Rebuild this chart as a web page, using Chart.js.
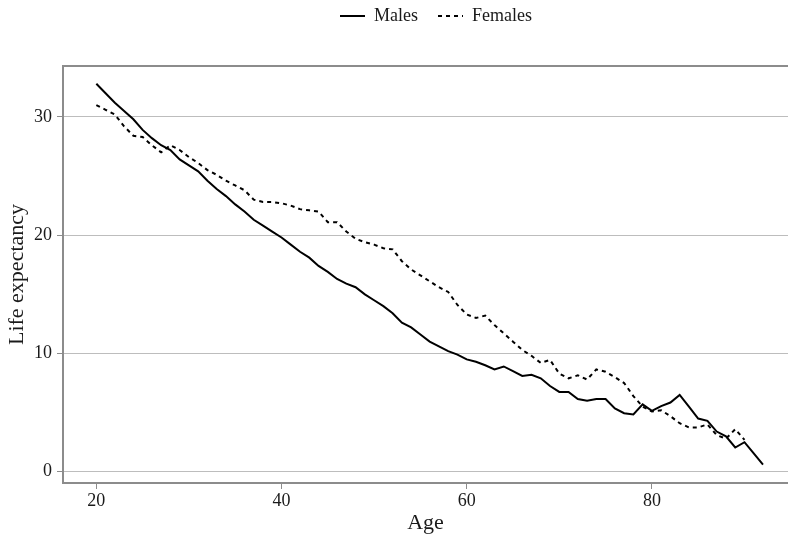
<!DOCTYPE html>
<html>
<head>
<meta charset="utf-8">
<script src="https://cdn.jsdelivr.net/npm/chart.js@4"></script>
<style>
  html, body { margin: 0; padding: 0; background: #fff; }
  #wrap { width: 788px; height: 540px; }
</style>
</head>
<body>
<div id="wrap"><canvas id="lifeChart" width="788" height="540"></canvas></div>
<script>
// Data
const maleAges = [20, 21, 22, 23, 24, 25, 26, 27, 28, 29, 30, 31, 32, 33, 34, 35, 36, 37, 38, 39,
    40, 41, 42, 43, 44, 45, 46, 47, 48, 49, 50, 51, 52, 53, 54, 55, 56, 57, 58, 59,
    60, 61, 62, 63, 64, 65, 66, 67, 68, 69, 70, 71, 72, 73, 74, 75, 76, 77, 78, 79,
    80, 81, 82, 83, 84, 85, 86, 87, 88, 89, 90, 91, 92];
const males = [32.8, 32.0, 31.2, 30.5, 29.8, 28.9, 28.2, 27.6, 27.2, 26.4,
    25.9, 25.4, 24.6, 23.9, 23.3, 22.6, 22.0, 21.3, 20.8, 20.3,
    19.8, 19.2, 18.6, 18.1, 17.4, 16.9, 16.3, 15.9, 15.6, 15.0,
    14.5, 14.0, 13.4, 12.6, 12.2, 11.6, 11.0, 10.6, 10.2, 9.9,
    9.5, 9.3, 9.0, 8.65, 8.9, 8.5, 8.1, 8.2, 7.9, 7.25,
    6.75, 6.75, 6.15, 6.0, 6.15, 6.15, 5.35, 4.95, 4.85, 5.7,
    5.15, 5.55, 5.85, 6.5, 5.5, 4.5, 4.3, 3.4, 3.0, 2.05,
    2.5, 1.55, 0.6];

const femaleAges = [20, 21, 22, 23, 24, 25, 26, 27, 28, 29, 30, 31, 32, 33, 34, 35, 36, 37, 38, 39,
    40, 41, 42, 43, 44, 45, 46, 47, 48, 49, 50, 51, 52, 53, 54, 55, 56, 57, 58, 59,
    60, 61, 62, 63, 64, 65, 66, 67, 68, 69, 70, 71, 72, 73, 74, 75, 76, 77, 78, 79,
    80, 81, 82, 83, 84, 85, 86, 87, 88, 89, 90];
const females = [31.0, 30.6, 30.2, 29.2, 28.4, 28.3, 27.6, 27.0, 27.6, 27.2,
    26.6, 26.1, 25.5, 25.1, 24.6, 24.2, 23.8, 23.0, 22.8, 22.8,
    22.7, 22.5, 22.2, 22.1, 22.0, 21.1, 21.1, 20.3, 19.7, 19.4,
    19.2, 18.9, 18.8, 17.8, 17.1, 16.6, 16.1, 15.6, 15.2, 14.1,
    13.3, 13.0, 13.2, 12.4, 11.7, 11.0, 10.3, 9.8, 9.2, 9.45,
    8.3, 7.9, 8.15, 7.8, 8.65, 8.45, 8.0, 7.5, 6.4, 5.5,
    5.1, 5.2, 4.7, 4.1, 3.75, 3.75, 4.0, 3.1, 2.8, 3.6,
    2.7];

const xTicks = [20, 40, 60, 80];
const yTicks = [0, 10, 20, 30];

const axisGray = '#8c8c8c';
const gridGray = '#bdbdbd';
const textColor = '#1a1a1a';
const serif = "'Liberation Serif', 'DejaVu Serif', serif";

function toPoints(xs, ys) {
    return xs.map((x, i) => ({ x: x, y: ys[i] }));
}

// Legend gets a fixed height so the plot frame starts where the reference does
const legendHeight = {
    id: 'legendHeight',
    beforeInit(chart) {
        const fit = chart.legend.fit;
        chart.legend.fit = function () {
            fit.bind(chart.legend)();
            this.height = 66;
        };
    },
    afterLayout(chart) {
        // ggplot centres the legend over the panel, not the whole canvas
        const lg = chart.legend;
        lg.left += 42;
        lg.right += 42;
        lg.top -= 13;
    }
};

// Top border of the panel
const frameTop = {
    id: 'frameTop',
    afterDraw(chart) {
        const { ctx, chartArea } = chart;
        ctx.save();
        ctx.strokeStyle = axisGray;
        ctx.lineWidth = 2;
        ctx.beginPath();
        ctx.moveTo(chartArea.left - 1, chartArea.top);
        ctx.lineTo(chartArea.right, chartArea.top);
        ctx.stroke();
        ctx.restore();
    }
};

new Chart(document.getElementById('lifeChart'), {
    type: 'line',
    data: {
        datasets: [
            {
                label: 'Males',
                data: toPoints(maleAges, males),
                borderColor: '#000',
                backgroundColor: '#000',
                borderWidth: 2,
                pointRadius: 0,
                tension: 0,
                fill: false
            },
            {
                label: 'Females',
                data: toPoints(femaleAges, females),
                borderColor: '#000',
                backgroundColor: '#000',
                borderWidth: 2,
                borderDash: [4, 4],
                pointRadius: 0,
                tension: 0,
                fill: false
            }
        ]
    },
    options: {
        responsive: false,
        animation: false,
        layout: { padding: 0 },
        plugins: {
            legend: {
                position: 'top',
                labels: {
                    usePointStyle: true,
                    pointStyle: 'line',
                    pointStyleWidth: 25,
                    boxHeight: 18,
                    padding: 20,
                    color: textColor,
                    font: { family: serif, size: 18 },
                    generateLabels: chart => {
                        const items = Chart.defaults.plugins.legend.labels.generateLabels(chart);
                        items.forEach(item => {
                            const ds = chart.data.datasets[item.datasetIndex];
                            item.lineDash = ds.borderDash || [];
                            item.lineWidth = 2;
                            item.strokeStyle = ds.borderColor;
                        });
                        return items;
                    }
                }
            },
            tooltip: { enabled: false }
        },
        scales: {
            x: {
                type: 'linear',
                min: 16.4,
                max: 94.7,
                afterBuildTicks: scale => { scale.ticks = xTicks.map(v => ({ value: v })); },
                afterFit: scale => { scale.height = 57; },
                grid: {
                    drawOnChartArea: false,
                    drawTicks: true,
                    tickLength: 6,
                    tickColor: axisGray,
                    tickWidth: 1
                },
                border: { display: true, color: axisGray, width: 2 },
                ticks: {
                    color: textColor,
                    padding: 1,
                    maxRotation: 0,
                    font: { family: serif, size: 18 }
                },
                title: {
                    display: true,
                    text: 'Age',
                    color: textColor,
                    padding: { top: 0, bottom: 4 },
                    font: { family: serif, size: 22 }
                }
            },
            y: {
                min: -0.95,
                max: 34.3,
                afterBuildTicks: scale => { scale.ticks = yTicks.map(v => ({ value: v })); },
                afterFit: scale => { scale.width = 63; },
                grid: {
                    color: gridGray,
                    lineWidth: 1,
                    drawTicks: true,
                    tickLength: 6,
                    tickColor: axisGray
                },
                border: { display: true, color: axisGray, width: 2 },
                ticks: {
                    color: textColor,
                    padding: 5,
                    font: { family: serif, size: 18 }
                },
                title: {
                    display: true,
                    text: 'Life expectancy',
                    color: textColor,
                    padding: { top: 4, bottom: 0 },
                    font: { family: serif, size: 22 }
                }
            }
        }
    },
    plugins: [legendHeight, frameTop]
});
</script>
</body>
</html>
